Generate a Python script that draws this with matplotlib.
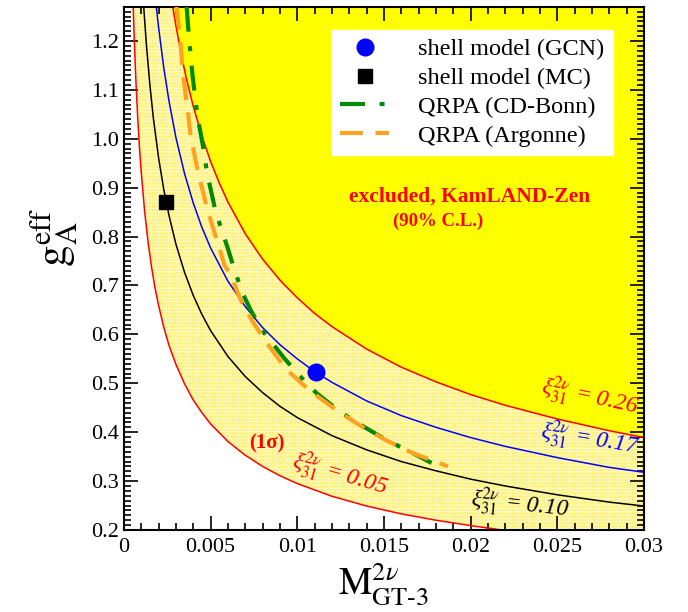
#!/usr/bin/env python3
"""g_A^eff versus M_GT-3^2nu with KamLAND-Zen exclusion band."""

import matplotlib
matplotlib.use("Agg")
import matplotlib.pyplot as plt
from matplotlib.ticker import FixedLocator, MultipleLocator

plt.rcParams['font.family'] = ['Liberation Serif', 'DejaVu Serif']
plt.rcParams['mathtext.fontset'] = 'stix'
plt.rcParams['hatch.linewidth'] = 1.6

YMIN, YMAX = 0.2, 1.27

# xi_31 = 0.05 (lower edge of 1 sigma band)
xi05_x = [0.00054, 0.0006, 0.0007, 0.0008, 0.0009, 0.001, 0.0012, 0.0014, 0.0016,
          0.0018, 0.002, 0.0023, 0.0026, 0.003, 0.0035, 0.004, 0.0045, 0.005, 0.006,
          0.007, 0.008, 0.009, 0.010, 0.012, 0.014, 0.016, 0.018, 0.020, 0.022]
xi05_y = [1.270, 1.204, 1.115, 1.043, 0.983, 0.933, 0.851, 0.788, 0.737,
          0.695, 0.660, 0.615, 0.578, 0.539, 0.499, 0.466, 0.440, 0.417, 0.381,
          0.353, 0.330, 0.311, 0.295, 0.269, 0.249, 0.233, 0.220, 0.209, 0.199]

# xi_31 = 0.10
xi10_x = [0.00115, 0.0013, 0.0015, 0.0017, 0.002, 0.0023, 0.0026, 0.003, 0.0035,
          0.004, 0.0045, 0.005, 0.006, 0.007, 0.008, 0.009, 0.010, 0.012, 0.014,
          0.016, 0.018, 0.020, 0.022, 0.025, 0.028, 0.030]
xi10_y = [1.268, 1.193, 1.111, 1.043, 0.962, 0.897, 0.844, 0.785, 0.727,
          0.680, 0.641, 0.608, 0.555, 0.514, 0.481, 0.453, 0.430, 0.393, 0.364,
          0.340, 0.321, 0.304, 0.290, 0.272, 0.257, 0.249]

# xi_31 = 0.17
xi17_x = [0.00187, 0.002, 0.0023, 0.0026, 0.003, 0.0035, 0.004, 0.0045, 0.005,
          0.006, 0.007, 0.008, 0.009, 0.010, 0.011, 0.012, 0.014, 0.016, 0.018,
          0.020, 0.022, 0.025, 0.028, 0.030]
xi17_y = [1.271, 1.229, 1.146, 1.078, 1.003, 0.929, 0.869, 0.819, 0.777,
          0.709, 0.657, 0.614, 0.579, 0.550, 0.524, 0.502, 0.464, 0.434, 0.410,
          0.389, 0.371, 0.348, 0.328, 0.318]

# xi_31 = 0.26 (KamLAND-Zen 90% C.L. limit)
xi26_x = [0.00282, 0.003, 0.0033, 0.0036, 0.004, 0.0045, 0.005, 0.0055, 0.006,
          0.007, 0.008, 0.009, 0.010, 0.011, 0.012, 0.014, 0.016, 0.018, 0.020,
          0.022, 0.025, 0.028, 0.030]
xi26_y = [1.270, 1.232, 1.174, 1.124, 1.067, 1.006, 0.954, 0.910, 0.871,
          0.806, 0.754, 0.711, 0.675, 0.643, 0.616, 0.570, 0.533, 0.503, 0.477,
          0.455, 0.427, 0.403, 0.389]

# QRPA curves
cdbonn_x = [0.00362, 0.00375, 0.00396, 0.00423, 0.00454, 0.0048, 0.0053, 0.00596,
            0.0064, 0.00684, 0.00731, 0.00794, 0.00928, 0.01015, 0.01111, 0.01246,
            0.0138, 0.01515, 0.01668, 0.01775]
cdbonn_y = [1.27, 1.21, 1.13, 1.05, 0.99, 0.93, 0.85, 0.78,
            0.73, 0.685, 0.65, 0.61, 0.55, 0.515, 0.48, 0.442,
            0.412, 0.384, 0.357, 0.337]

argonne_x = [0.00304, 0.00323, 0.00342, 0.00371, 0.00385, 0.00429, 0.00486, 0.00548,
             0.00582, 0.00611, 0.00673, 0.00736, 0.00823, 0.00938, 0.01044, 0.01111,
             0.01246, 0.0138, 0.01515, 0.01668, 0.0187]
argonne_y = [1.27, 1.21, 1.13, 1.05, 1.006, 0.93, 0.85, 0.78,
             0.74, 0.726, 0.671, 0.63, 0.583, 0.528, 0.494, 0.475,
             0.44, 0.41, 0.383, 0.357, 0.33]

# shell model points
gcn_x, gcn_y = [0.01107], [0.524]
mc_x, mc_y = [0.00245], [0.870]

xtick_vals = [0, 0.005, 0.01, 0.015, 0.02, 0.025, 0.03]
xtick_labels = ['0', '0.005', '0.01', '0.015', '0.02', '0.025', '0.03']
ytick_vals = [0.2, 0.3, 0.4, 0.5, 0.6, 0.7, 0.8, 0.9, 1.0, 1.1, 1.2]
ytick_labels = ['0.2', '0.3', '0.4', '0.5', '0.6', '0.7', '0.8', '0.9', '1.0', '1.1', '1.2']


def main():
    fig = plt.figure(figsize=(6.88, 6.12), dpi=100)
    ax = fig.add_axes([0.180, 0.134, 0.756, 0.855])

    # 1 sigma band (stippled) and excluded region
    band_x = xi05_x + [0.0305] + xi26_x[::-1]
    band_y = xi05_y + [0.19] + xi26_y[::-1]
    ax.fill(band_x, band_y, facecolor='#fffff2', edgecolor='#ffec3a',
            hatch='.....', lw=0, zorder=0)
    ax.fill_between(xi26_x, xi26_y, YMAX, color='#ffff00', lw=0, zorder=0.5)

    ax.plot(xi05_x, xi05_y, color='red', lw=1.1)
    ax.plot(xi10_x, xi10_y, color='black', lw=1.1)
    ax.plot(xi17_x, xi17_y, color='blue', lw=1.1)
    ax.plot(xi26_x, xi26_y, color='red', lw=1.1)

    h_cd, = ax.plot(cdbonn_x, cdbonn_y, color='#008a00', lw=3, dashes=(6, 3.5, 1.2, 3.5),
                    label='QRPA (CD-Bonn)', zorder=3)
    h_ar, = ax.plot(argonne_x, argonne_y, color='#ffa220', lw=3, dashes=(5.5, 3),
                    label='QRPA (Argonne)', zorder=3)

    h_gcn, = ax.plot(gcn_x, gcn_y, 'o', color='blue', ms=12, ls='none',
                     label='shell model (GCN)', zorder=4)
    h_mc, = ax.plot(mc_x, mc_y, 's', color='black', ms=10, ls='none',
                    label='shell model (MC)', zorder=4)

    # annotations
    ax.text(0.01995, 0.882, 'excluded, KamLAND-Zen', color='red', fontsize=15.5,
            fontweight='bold', ha='center', va='center')
    ax.text(0.0181, 0.831, '(90% C.L.)', color='red', fontsize=13.5,
            fontweight='bold', ha='center', va='center')
    ax.text(0.00825, 0.376, '(1σ)', color='red', fontsize=15,
            fontweight='bold', ha='center', va='center')

    xi_lab = r'ξ$^{2\nu}_{\mathit{31}}$ = '
    ax.text(0.02687, 0.470, xi_lab + '0.26', color='red', fontsize=17, style='italic',
            rotation=-12, ha='center', va='center', rotation_mode='anchor')
    ax.text(0.02687, 0.384, xi_lab + '0.17', color='blue', fontsize=17, style='italic',
            rotation=-9, ha='center', va='center', rotation_mode='anchor')
    ax.text(0.02284, 0.251, xi_lab + '0.10', color='black', fontsize=17, style='italic',
            rotation=-6, ha='center', va='center', rotation_mode='anchor')
    ax.text(0.01246, 0.313, xi_lab + '0.05', color='red', fontsize=17, style='italic',
            rotation=-16, ha='center', va='center', rotation_mode='anchor')

    ax.set_xlim(0, 0.03)
    ax.set_ylim(YMIN, YMAX)
    ax.xaxis.set_major_locator(FixedLocator(xtick_vals))
    ax.set_xticklabels(xtick_labels)
    ax.xaxis.set_minor_locator(MultipleLocator(0.001))
    ax.yaxis.set_major_locator(FixedLocator(ytick_vals))
    ax.set_yticklabels(ytick_labels)
    ax.yaxis.set_minor_locator(MultipleLocator(0.01))
    ax.tick_params(which='both', direction='in', top=True, right=True,
                   labelsize=16, width=1.2)
    ax.tick_params(which='major', length=10)
    ax.tick_params(which='minor', length=5)
    ax.tick_params(axis='x', pad=6)
    for s in ax.spines.values():
        s.set_linewidth(1.5)

    ax.set_xlabel(r'$\mathrm{M}^{2\nu}_{\mathrm{GT\text{-}3}}$', fontsize=27, labelpad=2)
    ax.set_ylabel(r'$\mathrm{g}^{\mathrm{eff}}_{\mathrm{A}}$', fontsize=31)
    ax.yaxis.set_label_coords(-0.085, 0.56)

    handles = [h_gcn, h_mc, h_cd, h_ar]
    leg = ax.legend(handles=handles, loc='upper right', bbox_to_anchor=(0.940, 0.956),
                    borderaxespad=0, fontsize=17.5, frameon=True, fancybox=False,
                    handlelength=2.0, labelspacing=0.28, handletextpad=1.2,
                    borderpad=0.35)
    leg.get_frame().set_edgecolor('white')
    leg.get_frame().set_facecolor('white')
    leg.get_frame().set_alpha(1)

    fig.savefig('out.png', dpi=100)


if __name__ == '__main__':
    main()
